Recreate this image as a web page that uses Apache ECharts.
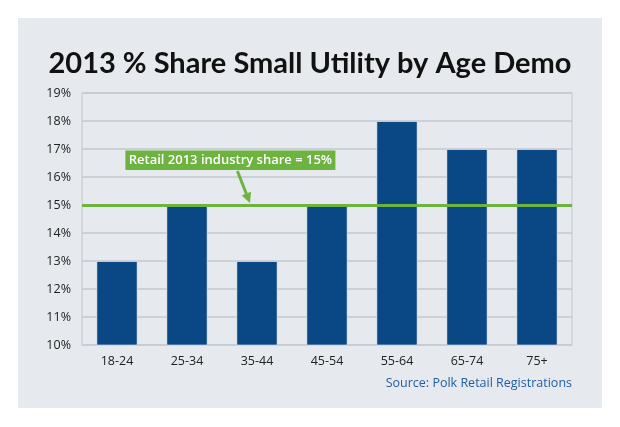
<!DOCTYPE html>
<html>
<head>
<meta charset="utf-8">
<script src="https://cdn.jsdelivr.net/npm/echarts@6/dist/echarts.min.js"></script>
<style>
html,body{margin:0;padding:0;background:#ffffff;}
#wrap{position:relative;width:620px;height:427px;}
#panel{position:absolute;left:18px;top:18px;width:584px;height:390px;background:#e6e9ed;}
#chart{position:absolute;left:0;top:0;width:620px;height:427px;}
</style>
</head>
<body>
<div id="wrap"><div id="panel"></div><div id="chart"></div></div>
<script>
var categories = ['18-24','25-34','35-44','45-54','55-64','65-74','75+'];
var shareValues = [13, 15, 13, 15, 18, 17, 17];
var industryShare = 15;
var yTicks = {min: 10, max: 19, interval: 1};
var titleText = '2013 % Share Small Utility by Age Demo';
var annotationText = 'Retail 2013 industry share = 15%';
var sourceText = 'Source: Polk Retail Registrations';

var chart = echarts.init(document.getElementById('chart'), null, {renderer:'canvas'});
var fontFam = '"Open Sans", "Noto Sans", sans-serif';
var titleFam = 'Lato, "Open Sans", sans-serif';
var option = {
  backgroundColor: 'transparent',
  animation: false,
  title: {
    text: titleText,
    left: 'center',
    top: 44,
    textStyle: {fontFamily: titleFam, fontSize: 29, fontWeight: 700, color: '#111111'}
  },
  grid: {left: 82, right: 48, top: 93, bottom: 82, show: true, borderColor: '#c3c8d1', borderWidth: 1, backgroundColor: 'transparent'},
  xAxis: {
    type: 'category',
    data: categories,
    axisLine: {show: false},
    axisTick: {show: false},
    axisLabel: {color: '#222', fontFamily: fontFam, fontSize: 12.5, margin: 10}
  },
  yAxis: {
    type: 'value',
    min: yTicks.min, max: yTicks.max, interval: yTicks.interval,
    axisLine: {show: false},
    axisTick: {show: false},
    splitLine: {lineStyle: {color: '#c3c8d1', width: 1.5}},
    axisLabel: {formatter: '{value}%', color: '#222', fontFamily: fontFam, fontSize: 12.5, margin: 11}
  },
  series: [{
    type: 'bar',
    data: shareValues,
    barWidth: '59%',
    itemStyle: {color: '#0a4785', borderColor: 'rgba(255,255,255,0.55)', borderWidth: 1},
    markLine: {
      silent: true,
      symbol: 'none',
      label: {show: false},
      lineStyle: {color: '#6cb33f', width: 3, type: 'solid'},
      data: [{yAxis: industryShare}]
    }
  }]
};
chart.setOption(option);

function px(cat, val) { return chart.convertToPixel({xAxisIndex:0, yAxisIndex:0}, [cat, val]); }
var pA = px(1, 16.5);
var pB = px(2, 16.5);
var pLine = px(1, industryShare);
var boxCx = pA[0] + (pB[0]-pA[0]) * 0.62;
var boxTop = px(0, 16.95)[1];
var boxBot = px(0, 16.25)[1];
var arrowStartX = pA[0] + (pB[0]-pA[0]) * 0.72;
var arrowEndX = pA[0] + (pB[0]-pA[0]) * 0.90;
var arrowEndY = pLine[1] - 2;
var arrowStartY = boxBot + 1;
var dx = arrowEndX - arrowStartX, dy = arrowEndY - arrowStartY;
var len = Math.sqrt(dx*dx+dy*dy), ux = dx/len, uy = dy/len;
var hl = 10, hw = 5;
var baseX = arrowEndX - ux*hl, baseY = arrowEndY - uy*hl;

chart.setOption({
  graphic: [
    {
      type: 'rect',
      shape: {x: boxCx - 105, y: boxTop, width: 210, height: boxBot - boxTop},
      style: {fill: '#6cb33f'},
      z: 10
    },
    {
      type: 'text',
      x: boxCx, y: (boxTop + boxBot) / 2,
      style: {
        text: annotationText,
        fill: '#ffffff',
        font: '600 13px ' + fontFam,
        align: 'center',
        verticalAlign: 'middle'
      },
      z: 11
    },
    {
      type: 'line',
      shape: {x1: arrowStartX, y1: arrowStartY, x2: baseX, y2: baseY},
      style: {stroke: '#6cb33f', lineWidth: 3},
      z: 10
    },
    {
      type: 'polygon',
      shape: {points: [[arrowEndX, arrowEndY], [baseX - uy*hw, baseY + ux*hw], [baseX + uy*hw, baseY - ux*hw]]},
      style: {fill: '#6cb33f'},
      z: 10
    },
    {
      type: 'text',
      right: 48, top: 377,
      style: {text: sourceText, fill: '#1f5fa3', font: '12.5px ' + fontFam},
      z: 10
    }
  ]
});
</script>
</body>
</html>
